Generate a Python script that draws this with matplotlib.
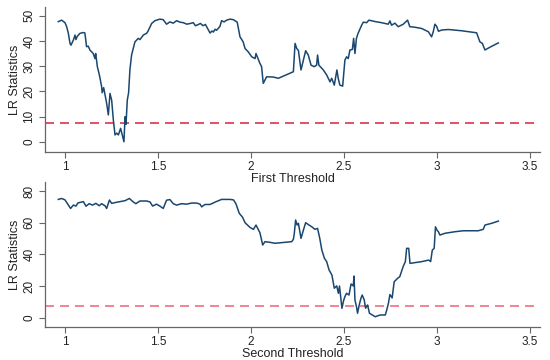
import matplotlib
matplotlib.use("Agg")
import matplotlib.pyplot as plt

plt.rcParams['font.family'] = ['Liberation Sans', 'DejaVu Sans']
plt.rcParams['lines.scale_dashes'] = False

# First threshold LR statistics
x1 = [0.964, 0.982, 1.000, 1.009, 1.018, 1.027, 1.032, 1.045, 1.054, 1.059, 1.066, 1.081, 1.099, 1.107,
      1.116, 1.125, 1.134, 1.152, 1.161, 1.165, 1.174, 1.185, 1.197, 1.200, 1.208, 1.217, 1.224, 1.233,
      1.242, 1.251, 1.260, 1.269, 1.278, 1.287, 1.299, 1.308, 1.317, 1.323, 1.328, 1.335, 1.342, 1.349,
      1.358, 1.376, 1.394, 1.403, 1.421, 1.439, 1.446, 1.466, 1.484, 1.510, 1.528, 1.546, 1.564, 1.582,
      1.600, 1.618, 1.636, 1.655, 1.674, 1.690, 1.701, 1.715, 1.728, 1.742, 1.755, 1.780, 1.790, 1.798,
      1.807, 1.815, 1.833, 1.842, 1.855, 1.869, 1.887, 1.905, 1.926, 1.941, 1.958,
      1.968, 1.986, 2.004, 2.022, 2.027, 2.048, 2.057, 2.066, 2.084, 2.120, 2.147, 2.228, 2.237, 2.246,
      2.255, 2.269, 2.282, 2.294, 2.308, 2.323, 2.340, 2.353, 2.358, 2.365, 2.389, 2.407, 2.425, 2.434,
      2.448, 2.462, 2.469, 2.478, 2.493, 2.505, 2.514, 2.523, 2.532, 2.545, 2.552, 2.559, 2.567, 2.576,
      2.595, 2.604, 2.622, 2.634, 2.670, 2.702, 2.738, 2.747, 2.756, 2.774, 2.792, 2.819, 2.842, 2.854,
      2.881, 2.918, 2.954, 2.971, 2.980, 2.989, 2.998, 3.008, 3.026, 3.061, 3.133, 3.213, 3.231, 3.244,
      3.258, 3.285, 3.330]
y1 = [47.6, 48.2, 47.2, 45.6, 43.0, 39.0, 38.3, 40.3, 42.3, 40.5, 41.8, 43.0, 43.3, 43.1,
      37.7, 37.9, 36.4, 35.0, 33.0, 35.0, 29.8, 26.5, 21.9, 19.5, 21.5, 17.9, 15.3, 10.7,
      19.2, 16.5, 8.7, 2.8, 3.5, 2.8, 5.4, 2.8, 0.1, 10.0, 7.0, 16.6, 19.5, 28.5,
      34.4, 39.6, 41.0, 40.5, 42.3, 43.0, 43.8, 46.9, 48.0, 48.6, 48.4, 46.6, 47.5, 47.0,
      48.0, 47.4, 47.2, 46.6, 46.9, 47.2, 46.0, 46.4, 46.9, 46.0, 46.5, 43.1, 43.9, 43.5,
      44.6, 44.2, 45.7, 48.0, 47.5, 48.2, 48.6, 48.4, 47.4, 41.6, 39.6,
      37.0, 35.6, 33.7, 33.0, 35.0, 31.1, 29.8, 23.2, 25.8, 25.7, 25.2, 27.8, 39.0, 37.0,
      36.2, 28.5, 32.5, 36.1, 34.4, 30.4, 29.8, 30.4, 34.4, 30.4, 28.5, 26.5, 23.8, 25.2,
      22.5, 28.5, 25.2, 22.5, 22.1, 32.4, 33.7, 33.0, 36.4, 36.6, 41.0, 35.0, 41.0, 43.0,
      46.2, 47.4, 47.2, 48.2, 47.6, 47.2, 46.6, 47.9, 46.2, 47.0, 45.6, 46.6, 48.2, 45.6,
      45.4, 44.9, 43.6, 41.6, 43.6, 46.6, 45.8, 43.8, 44.3, 44.5, 44.0, 43.2, 39.6, 39.0,
      36.4, 37.5, 39.2]

# Second threshold LR statistics
x2 = [0.964, 0.982, 1.000, 1.018, 1.030, 1.045, 1.059, 1.070, 1.099, 1.113, 1.130, 1.148, 1.166, 1.184,
      1.197, 1.215, 1.224, 1.239, 1.251, 1.269, 1.296, 1.323, 1.346, 1.367, 1.381, 1.403, 1.439, 1.457,
      1.471, 1.492, 1.510, 1.528, 1.546, 1.564, 1.582, 1.600, 1.627, 1.654, 1.681, 1.708, 1.726, 1.735,
      1.753, 1.780, 1.807, 1.842, 1.887, 1.906, 1.919, 1.937, 1.955, 1.968, 1.995, 2.013, 2.027, 2.048,
      2.063, 2.075, 2.102, 2.129, 2.219, 2.228, 2.233, 2.240, 2.248, 2.255, 2.269, 2.282, 2.294, 2.312,
      2.326, 2.344, 2.358, 2.370, 2.381, 2.395, 2.407, 2.420, 2.435, 2.448, 2.461, 2.470, 2.476, 2.489,
      2.498, 2.505, 2.514, 2.527, 2.538, 2.550, 2.554, 2.559, 2.568, 2.573, 2.582, 2.591, 2.598, 2.609,
      2.616, 2.627, 2.637, 2.652, 2.668, 2.695, 2.722, 2.730, 2.739, 2.747, 2.759, 2.770, 2.788, 2.800,
      2.818, 2.830, 2.837, 2.848, 2.855, 2.882, 2.918, 2.956, 2.966, 2.975, 2.985, 2.992, 3.000, 3.008,
      3.016, 3.043, 3.097, 3.142, 3.222, 3.249, 3.258, 3.294, 3.330]
y2 = [74.7, 75.3, 74.4, 71.1, 69.0, 71.1, 70.5, 72.5, 73.3, 70.4, 72.0, 71.1, 72.2, 70.7,
      72.0, 70.7, 69.0, 74.3, 72.2, 72.7, 73.3, 73.9, 75.3, 73.1, 72.0, 73.7, 73.7, 73.1,
      70.5, 71.7, 70.5, 69.0, 74.2, 74.6, 72.0, 71.1, 72.0, 71.7, 72.4, 72.4, 71.7, 70.0,
      71.5, 71.5, 73.0, 74.7, 74.7, 74.4, 72.0, 65.9, 63.4, 60.0, 57.0, 55.8, 58.5, 53.7,
      45.9, 48.0, 47.6, 47.0, 48.0, 49.5, 53.3, 61.7, 58.5, 59.6, 50.1, 55.4, 60.0, 58.5,
      57.5, 55.8, 56.4, 50.0, 42.7, 37.5, 35.4, 30.1, 27.0, 18.6, 20.1, 15.4, 20.0, 5.9,
      10.8, 13.3, 15.4, 14.3, 21.3, 20.1, 26.3, 11.2, 6.5, 2.8, 8.0, 12.2, 14.3, 11.2,
      6.0, 8.0, 2.8, 1.7, 0.6, 1.7, 1.7, 4.8, 9.1, 14.6, 12.5, 22.7, 24.8, 25.9,
      32.2, 35.4, 43.8, 43.8, 34.3, 34.8, 35.4, 36.4, 35.4, 42.7, 43.8, 57.4, 55.3, 54.2,
      52.2, 53.3, 54.3, 54.9, 54.9, 55.8, 58.5, 59.6, 61.0]

crit_value = 7.35
x_ticks = [1, 1.5, 2, 2.5, 3, 3.5]
x_ticklabels = ['1', '1.5', '2', '2.5', '3', '3.5']
y1_ticks = [0, 10, 20, 30, 40, 50]
y2_ticks = [0, 20, 40, 60, 80]
y_label = 'LR Statistics'
x1_label = 'First Threshold'
x2_label = 'Second Threshold'

W, H = 550, 360
fig = plt.figure(figsize=(W / 100, H / 100), dpi=100)
fig.patch.set_facecolor('white')

line_color = '#1a476f'
spine_color = '#666666'


def style(ax, xs, ys, yticks, xlabel, ylim, dash_color):
    ax.plot(xs, ys, color=line_color, lw=1.1, zorder=3)
    ax.axhline(crit_value, color=dash_color, lw=1.2, dashes=(6.5, 4.3), zorder=2)
    ax.set_xlim(0.8925, 3.554)
    ax.set_ylim(*ylim)
    ax.set_xticks(x_ticks)
    ax.set_xticklabels(x_ticklabels)
    ax.set_yticks(yticks)
    ax.set_yticklabels([str(t) for t in yticks])
    for s in ('top', 'right'):
        ax.spines[s].set_visible(False)
    for s in ('left', 'bottom'):
        ax.spines[s].set_color(spine_color)
        ax.spines[s].set_linewidth(0.9)
    ax.tick_params(axis='both', colors=spine_color, labelcolor='#222222',
                   labelsize=8.5, length=4, width=0.8)
    ax.tick_params(axis='x', pad=2.5)
    ax.tick_params(axis='y', labelrotation=90, pad=3)
    for lab in ax.get_yticklabels():
        lab.set_va('center')
    ax.set_ylabel(y_label, fontsize=9, color='#222222', labelpad=2)
    ax.set_xlabel(xlabel, fontsize=9, color='#222222', labelpad=0)


ax1 = fig.add_axes([45 / W, 1 - 152 / H, 495 / W, 145 / H])
style(ax1, x1, y1, y1_ticks, x1_label, (-3.95, 53.4), '#e0304c')

ax2 = fig.add_axes([45 / W, 1 - 326.7 / H, 495 / W, 144.7 / H])
style(ax2, x2, y2, y2_ticks, x2_label, (-5.7, 85.7), '#ef6f80')

fig.savefig('out.png', dpi=100, facecolor='white')
